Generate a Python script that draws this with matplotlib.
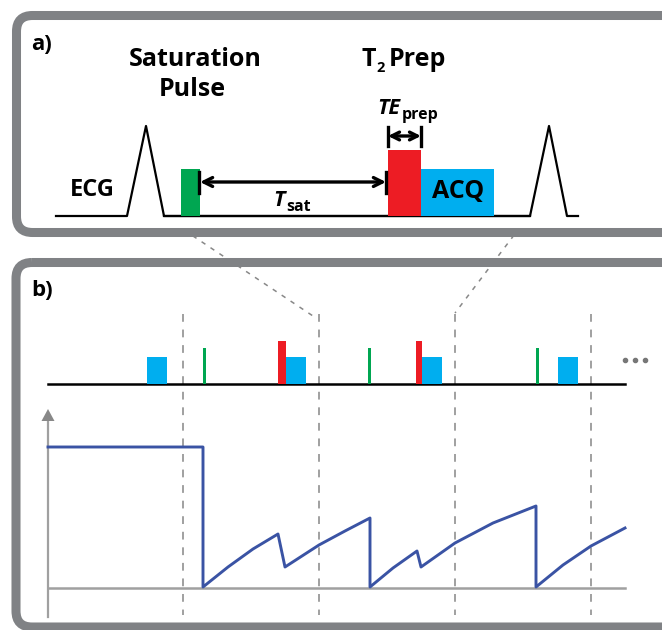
import matplotlib.pyplot as plt
from matplotlib.patches import FancyBboxPatch, Rectangle, Polygon
import numpy as np

plt.rcParams['font.family'] = ['Open Sans', 'DejaVu Sans']

# colores
verde = '#00A651'
rojo = '#ED1C24'
azul = '#00AEEF'
curva_col = '#3A53A4'
borde = '#808285'
gris = '#A0A0A0'

# ---- panel a (coordenadas en pixeles de la figura) ----
ecg_x = [56, 127, 146, 164, 530, 549, 567, 578]
ecg_y = [216, 216, 126, 216, 216, 126, 216, 216]
base_a = 216
sat_pulso = (181, 200, 169)      # x0, x1, y arriba
t2prep = (388, 421, 150)
acq = (421, 494, 169)

# ---- panel b ----
base_b = 383.5
acq_x = [147, 286, 422, 558]
acq_w = 20
acq_top = 357
t2_x = [278, 416]
t2_w = [8, 6]
t2_top = 341
sat_x = [204, 369, 537]
sat_top = 348
rr_x = [183, 319, 455, 591]

# curva de magnetizacion
mag_x = [48, 203, 203, 228, 253, 278, 285, 319, 345, 370, 370, 393, 417,
         421, 455, 493, 536, 536, 563, 591, 625]
mag_y = [447, 447, 587, 567, 549, 534, 567, 545, 531, 518, 587, 568, 551,
         567, 543, 523, 506, 587, 565, 546, 528]

fig = plt.figure(figsize=(6.62, 6.30), dpi=100)
ax = fig.add_axes([0, 0, 1, 1])
ax.set_xlim(0, 662)
ax.set_ylim(630, 0)
ax.axis('off')

# lineas punteadas que unen los paneles
ax.plot([166, 316], [218, 318], color='#888888', lw=1.1, ls=(0, (3, 4)), zorder=1)
ax.plot([527, 455], [218, 313], color='#888888', lw=1.1, ls=(0, (3, 4)), zorder=1)

# marcos redondeados
ax.add_patch(FancyBboxPatch((16.5, 15.5), 700, 217, boxstyle='round,pad=0,rounding_size=16',
                            fc='white', ec=borde, lw=6.5, zorder=2))
ax.add_patch(FancyBboxPatch((16, 262.5), 700, 364.5, boxstyle='round,pad=0,rounding_size=16',
                            fc='none', ec=borde, lw=6.5, zorder=2))

# ---- panel a ----
ax.plot(ecg_x, ecg_y, color='black', lw=1.6, zorder=3)
ax.plot([ecg_x[3], ecg_x[4]], [base_a, base_a], color='black', lw=1.6, zorder=3)
for (x0, x1, top), c in [(sat_pulso, verde), (t2prep, rojo), (acq, azul)]:
    ax.add_patch(Rectangle((x0, top), x1 - x0, base_a - top, fc=c, ec='none', zorder=4))

# flecha Tsat
ax.annotate('', xy=(sat_pulso[1], 182), xytext=(t2prep[0] - 2, 182),
            arrowprops=dict(arrowstyle='<->', lw=2.4, color='black', mutation_scale=16,
                            shrinkA=0, shrinkB=0), zorder=5)
ax.plot([sat_pulso[1] - 1, sat_pulso[1] - 1], [172, 193], color='black', lw=2.4, zorder=5)
ax.plot([t2prep[0] - 2, t2prep[0] - 2], [172, 193], color='black', lw=2.4, zorder=5)

# flecha TEprep
ax.annotate('', xy=(t2prep[0], 136), xytext=(t2prep[1], 136),
            arrowprops=dict(arrowstyle='<->', lw=2.4, color='black', mutation_scale=14,
                            shrinkA=0, shrinkB=0), zorder=5)
ax.plot([t2prep[0], t2prep[0]], [127, 146], color='black', lw=2.4, zorder=5)
ax.plot([t2prep[1], t2prep[1]], [127, 146], color='black', lw=2.4, zorder=5)

ax.text(31, 44, 'a)', fontsize=16, fontweight='bold', ha='left', va='center', zorder=6)
ax.text(195, 59, 'Saturation', fontsize=18, fontweight='bold', ha='center', va='center', zorder=6)
ax.text(192, 89, 'Pulse', fontsize=18, fontweight='bold', ha='center', va='center', zorder=6)
ax.text(362, 59, 'T', fontsize=18, fontweight='bold', ha='left', va='center', zorder=6)
ax.text(376, 68, '2', fontsize=10.5, fontweight='bold', ha='left', va='center', zorder=6)
ax.text(389, 59, 'Prep', fontsize=18, fontweight='bold', ha='left', va='center', zorder=6)
ax.text(377, 109, 'TE', fontsize=15.5, fontweight='bold', style='italic', ha='left', va='center', zorder=6)
ax.text(402, 115, 'prep', fontsize=11.5, fontweight='bold', ha='left', va='center', zorder=6)
ax.text(458, 192, 'ACQ', fontsize=18, fontweight='bold', ha='center', va='center', zorder=6)
ax.text(92, 190, 'ECG', fontsize=17, fontweight='bold', ha='center', va='center', zorder=6)
ax.text(273, 200, 'T', fontsize=15.5, fontweight='bold', style='italic', ha='left', va='center', zorder=6)
ax.text(286, 207, 'sat', fontsize=11.5, fontweight='bold', ha='left', va='center', zorder=6)

# ---- panel b ----
ax.text(31, 291, 'b)', fontsize=16, fontweight='bold', ha='left', va='center', zorder=6)
for x in rr_x:
    ax.plot([x, x], [314, 615], color=gris, lw=1.4, ls=(0, (4, 4)), zorder=3)
ax.plot([48, 625], [base_b, base_b], color='black', lw=1.8, zorder=4)
for x in acq_x:
    ax.add_patch(Rectangle((x, acq_top), acq_w, base_b - acq_top, fc=azul, ec='none', zorder=4))
for x, w in zip(t2_x, t2_w):
    ax.add_patch(Rectangle((x, t2_top), w, base_b - t2_top, fc=rojo, ec='none', zorder=4))
for x in sat_x:
    ax.add_patch(Rectangle((x - 1.5, sat_top), 3, base_b - sat_top, fc=verde, ec='none', zorder=4))
ax.plot([625, 635, 645], [360, 360, 360], ls='none', marker='o', ms=3.0, color='#777777', zorder=4)

# ejes de la curva
ax.plot([48, 48], [617, 420], color=gris, lw=1.6, zorder=4)
ax.add_patch(Polygon([[41.5, 421], [54.5, 421], [48, 409]], closed=True, fc='#888888', ec='none', zorder=4))
ax.plot([48, 625], [588, 588], color=gris, lw=1.8, zorder=4)
ax.plot(mag_x, mag_y, color=curva_col, lw=2.1, zorder=5)

fig.savefig('out.png', dpi=100)
